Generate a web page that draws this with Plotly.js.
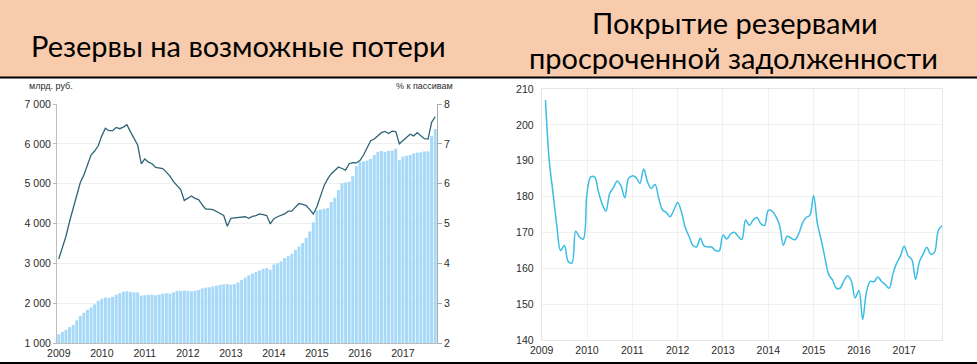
<!DOCTYPE html>
<html><head><meta charset="utf-8">
<script src="https://cdn.plot.ly/plotly-3.0.1.min.js"></script>
<style>html,body{margin:0;padding:0;background:#fff}#chart{width:977px;height:364px}</style>
</head><body><div id="chart"></div>
<script>
// ---- data ----
const yearLabels = ['2009','2010','2011','2012','2013','2014','2015','2016','2017'];

// Резервы на возможные потери, млрд руб. (monthly, Jan 2009 - Oct 2017)
const reserves = [
  1220,1280,1330,1400,1450,1570,1680,1760,1830,1890,1970,2060,
  2110,2140,2130,2160,2210,2250,2290,2300,2280,2270,2270,2190,
  2200,2210,2210,2200,2220,2240,2250,2240,2270,2310,2310,2320,
  2310,2300,2310,2330,2370,2390,2400,2420,2440,2460,2470,2480,
  2460,2480,2520,2580,2640,2700,2740,2780,2820,2860,2880,2840,
  2970,3000,3050,3130,3180,3240,3340,3420,3510,3640,3800,4030,
  4330,4350,4370,4390,4540,4650,4840,5010,5030,5050,5190,5440,
  5540,5560,5580,5620,5720,5800,5820,5800,5820,5830,5880,5590,
  5680,5700,5720,5760,5780,5790,5810,5810,6200,6370
];

// Резервы, % к пассивам
const reservesPct = [
  4.11,4.40,4.68,5.05,5.39,5.72,6.03,6.22,6.45,6.72,6.82,6.95,
  7.20,7.39,7.33,7.33,7.41,7.38,7.42,7.48,7.30,7.14,6.97,6.50,
  6.62,6.54,6.50,6.41,6.39,6.38,6.29,6.19,6.05,5.95,5.85,5.58,
  5.64,5.69,5.63,5.60,5.47,5.36,5.36,5.35,5.30,5.25,5.20,4.93,
  5.13,5.14,5.15,5.16,5.17,5.13,5.18,5.20,5.24,5.22,5.20,4.99,
  5.12,5.17,5.20,5.24,5.31,5.31,5.41,5.50,5.48,5.45,5.35,5.24,
  5.42,5.70,5.95,6.12,6.25,6.33,6.42,6.38,6.34,6.50,6.53,6.52,
  6.58,6.72,6.90,7.08,7.12,7.20,7.28,7.31,7.26,7.32,7.31,7.00,
  7.08,7.18,7.24,7.20,7.28,7.20,7.13,7.12,7.54,7.68
];

// Покрытие резервами просроченной задолженности, % (monthly, Feb 2009 - Nov 2017)
const coverage = [
  206.9,190.0,181.0,172.0,165.0,166.4,162.0,161.5,170.4,168.8,168.2,181.0,
  185.5,185.5,181.5,178.0,176.0,180.9,182.5,184.4,183.0,179.7,185.1,185.8,
  185.3,183.7,187.7,184.2,182.3,183.4,179.5,176.3,175.6,174.4,176.3,178.4,
  175.8,171.4,169.0,166.5,166.0,168.4,166.3,166.0,166.0,165.0,164.9,169.3,
  168.2,169.6,170.1,169.0,168.1,173.5,172.0,173.5,174.2,172.5,172.0,176.2,
  176.0,174.5,172.0,166.5,169.0,168.5,168.0,169.5,172.5,174.2,174.8,180.3,
  172.5,168.0,163.0,158.3,156.8,154.5,154.5,156.5,158.0,156.5,151.8,153.9,
  145.8,153.5,156.4,156.3,157.6,156.4,155.5,154.5,158.5,161.5,163.5,166.2,
  163.6,162.5,157.0,161.8,164.0,165.9,164.0,164.5,170.5,172.0
];

// ---- helpers ----
const W = 977, H = 364;
const px = x => x / W;
const py = y => 1 - y / H;
const monthIdx = reserves.map((_, i) => i);
const coverageIdx = coverage.map((_, i) => i + 1);
const yearTicks = yearLabels.map((_, k) => k * 12);

const txt = '#2b2b2b';
const tickFont = {family: 'Liberation Sans, Arial, sans-serif', size: 10.5, color: txt};

const traces = [
  {type: 'bar', x: monthIdx, y: reserves, xaxis: 'x', yaxis: 'y',
   marker: {color: '#a6d8f7'}, hoverinfo: 'skip'},
  {type: 'scatter', mode: 'lines', x: monthIdx, y: reservesPct, xaxis: 'x', yaxis: 'y2',
   line: {color: '#2f6577', width: 1.3}, hoverinfo: 'skip'},
  {type: 'scatter', mode: 'lines', x: coverageIdx, y: coverage, xaxis: 'x2', yaxis: 'y3',
   line: {color: '#3cbde4', width: 1.5, shape: 'spline', smoothing: 1}, hoverinfo: 'skip'}
];

const titleFont = {family: 'Lato, Open Sans, sans-serif', size: 29, color: '#000'};

const layout = {
  width: W, height: H,
  margin: {l: 0, r: 0, t: 0, b: 0},
  paper_bgcolor: '#fff', plot_bgcolor: 'rgba(0,0,0,0)',
  showlegend: false,
  separators: '. ',
  bargap: 0.18,
  xaxis: {domain: [px(57), px(437)], range: [-0.5, 105.5], anchor: 'y',
    tickmode: 'array', tickvals: yearTicks, ticktext: yearLabels,
    showgrid: false, zeroline: false, showline: true, linecolor: '#bdbdbd', linewidth: 1,
    ticks: '', tickfont: tickFont, fixedrange: true},
  yaxis: {domain: [py(343), py(104)], range: [1000, 7000], dtick: 1000, tickformat: ',d',
    anchor: 'x', showgrid: true, gridcolor: '#efefef', zeroline: false,
    showline: true, linecolor: '#bdbdbd', ticks: 'outside', ticklen: 3, tickcolor: '#bdbdbd',
    tickfont: tickFont, fixedrange: true},
  yaxis2: {overlaying: 'y', side: 'right', anchor: 'x', range: [2, 8], dtick: 1,
    showgrid: false, zeroline: false, showline: true, linecolor: '#aaaaaa',
    ticks: 'outside', ticklen: 4, tickcolor: '#aaaaaa', tickfont: tickFont, fixedrange: true},
  xaxis2: {domain: [px(541.7), px(942)], range: [0, 106], anchor: 'y3',
    tickmode: 'array', tickvals: yearTicks, ticktext: yearLabels,
    showgrid: true, gridcolor: '#eef0f2', zeroline: false,
    showline: true, linecolor: '#e6e6e6', mirror: true, ticks: '',
    tickfont: tickFont, fixedrange: true},
  yaxis3: {domain: [py(340.3), py(89)], range: [140, 210], dtick: 10, anchor: 'x2',
    showgrid: true, gridcolor: '#eef0f2', zeroline: false,
    showline: true, linecolor: '#e6e6e6', mirror: true, ticks: '', ticklabelstandoff: 5,
    tickfont: tickFont, fixedrange: true},
  shapes: [
    {type: 'rect', xref: 'paper', yref: 'paper', x0: 0, x1: 1, y0: py(77), y1: 1,
     fillcolor: '#f8cbad', line: {width: 0}, layer: 'below'},
    {type: 'line', xref: 'paper', yref: 'paper', x0: 0, x1: 1, y0: py(77.5), y1: py(77.5),
     line: {color: '#000', width: 2}},
    {type: 'line', xref: 'paper', yref: 'paper', x0: 0, x1: 1, y0: py(363), y1: py(363),
     line: {color: '#000', width: 2}}
  ],
  annotations: [
    {text: 'Резервы на возможные потери', xref: 'paper', yref: 'paper',
     x: px(238), y: py(45), xanchor: 'center', yanchor: 'middle', showarrow: false, font: titleFont},
    {text: 'Покрытие резервами', xref: 'paper', yref: 'paper',
     x: px(735), y: py(22), xanchor: 'center', yanchor: 'middle', showarrow: false, font: titleFont},
    {text: 'просроченной задолженности', xref: 'paper', yref: 'paper',
     x: px(733), y: py(57), xanchor: 'center', yanchor: 'middle', showarrow: false, font: titleFont},
    {text: 'млрд. руб.', xref: 'paper', yref: 'paper', x: px(27), y: py(86),
     xanchor: 'left', yanchor: 'middle', showarrow: false,
     font: {family: 'Liberation Sans, Arial, sans-serif', size: 9, color: txt}},
    {text: '% к пассивам', xref: 'paper', yref: 'paper', x: px(455), y: py(86),
     xanchor: 'right', yanchor: 'middle', showarrow: false,
     font: {family: 'Liberation Sans, Arial, sans-serif', size: 9, color: txt}}
  ]
};

Plotly.newPlot('chart', traces, layout, {staticPlot: true, displayModeBar: false});
</script>
</body></html>
